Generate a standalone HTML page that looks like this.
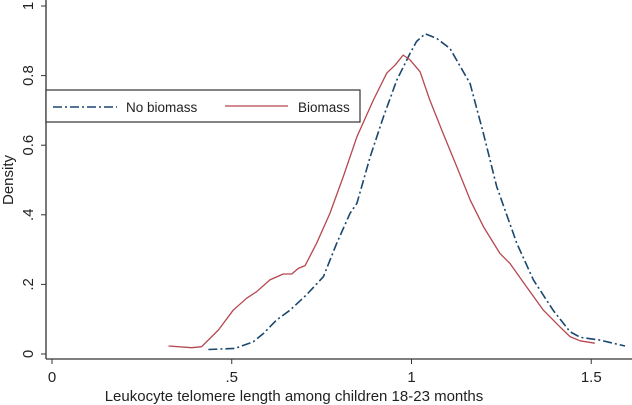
<!DOCTYPE html>
<html><head><meta charset="utf-8"><style>
body{margin:0;background:#fff;}
svg{display:block;font-family:"Liberation Sans",Arial,sans-serif;}
</style></head><body>
<svg id="chart" width="632" height="405"></svg>
<script>
const xTicks=[0,0.5,1,1.5];
const xTickLabels=["0",".5","1","1.5"];
const yTicks=[0,0.2,0.4,0.6,0.8,1];
const yTickLabels=["0",".2",".4","0.6","0.8","1"];
const biomassX=[0.324,0.389,0.416,0.463,0.504,0.541,0.569,0.606,0.643,0.667,0.685,0.704,0.736,0.773,0.810,0.848,0.894,0.931,0.954,0.977,0.996,1.024,1.051,1.088,1.126,1.163,1.200,1.246,1.274,1.320,1.367,1.413,1.441,1.469,1.510];
const biomassY=[0.023,0.018,0.021,0.069,0.126,0.160,0.179,0.213,0.230,0.230,0.246,0.254,0.318,0.404,0.509,0.624,0.730,0.807,0.830,0.859,0.845,0.811,0.730,0.634,0.538,0.443,0.366,0.289,0.260,0.193,0.126,0.078,0.050,0.038,0.031];
const noBiomassX=[0.435,0.509,0.560,0.588,0.625,0.662,0.708,0.755,0.792,0.829,0.848,0.885,0.922,0.959,0.996,1.014,1.038,1.070,1.107,1.163,1.200,1.237,1.293,1.339,1.394,1.441,1.469,1.524,1.594];
const noBiomassY=[0.013,0.016,0.035,0.059,0.098,0.126,0.170,0.222,0.318,0.404,0.433,0.567,0.682,0.787,0.864,0.898,0.920,0.907,0.878,0.777,0.634,0.481,0.318,0.213,0.126,0.064,0.048,0.040,0.023];

const NS="http://www.w3.org/2000/svg";
const svg=document.getElementById('chart');
const sx=v=>52+v*359.5;
const sy=v=>354-v*348;
function mk(t,a,p){const e=document.createElementNS(NS,t);for(const k in a)e.setAttribute(k,a[k]);(p||svg).appendChild(e);return e;}

let ax=mk('line',{x1:46,y1:0,x2:46,y2:359,stroke:'#333','stroke-width':1.3});


let ax2=mk('line',{x1:46,y1:359,x2:632,y2:359,stroke:'#333','stroke-width':1.3});



yTicks.forEach((v,i)=>{
  mk('line',{x1:41,y1:sy(v),x2:46,y2:sy(v),stroke:'#333','stroke-width':1});
  const t=mk('text',{x:33,y:sy(v),'font-size':15,fill:'#222','text-anchor':'middle',transform:`rotate(-90 33 ${sy(v)})`});
  t.textContent=yTickLabels[i];
  
  
});
xTicks.forEach((v,i)=>{
  mk('line',{x1:sx(v),y1:359,x2:sx(v),y2:364,stroke:'#333','stroke-width':1});
  const t=mk('text',{x:sx(v),y:382,'font-size':15,fill:'#222','text-anchor':'middle'});
  t.textContent=xTickLabels[i];
  
  
});
let yt=mk('text',{x:13,y:180,'font-size':15,fill:'#222','text-anchor':'middle',transform:'rotate(-90 13 180)'});
yt.textContent='Density';


let xt=mk('text',{x:294,y:401,'font-size':15,fill:'#222','text-anchor':'middle'});
xt.textContent='Leukocyte telomere length among children 18-23 months';



function pts(X,Y){return X.map((x,i)=>sx(x).toFixed(1)+','+sy(Y[i]).toFixed(1)).join(' ');}
let l1=mk('polyline',{points:pts(noBiomassX,noBiomassY),fill:'none',stroke:'#1a476f','stroke-width':1.6,'stroke-dasharray':'9,3,2,3','stroke-linejoin':'round'});


let l2=mk('polyline',{points:pts(biomassX,biomassY),fill:'none',stroke:'#b5474f','stroke-width':1.3,'stroke-linejoin':'round'});



const lg=mk('g',{});


mk('rect',{x:46,y:90,width:314,height:32,fill:'#fff',stroke:'#333','stroke-width':1.2},lg);
mk('line',{x1:53,y1:107,x2:117,y2:107,stroke:'#1a476f','stroke-width':1.6,'stroke-dasharray':'9,3,2,3'},lg);
let t1=mk('text',{x:126,y:112,'font-size':13.5,fill:'#222'},lg);t1.textContent='No biomass';


mk('line',{x1:225,y1:106,x2:288,y2:106,stroke:'#b5474f','stroke-width':1.3},lg);
let t2=mk('text',{x:298,y:112,'font-size':13.5,fill:'#222'},lg);t2.textContent='Biomass';


</script>
</body></html>
